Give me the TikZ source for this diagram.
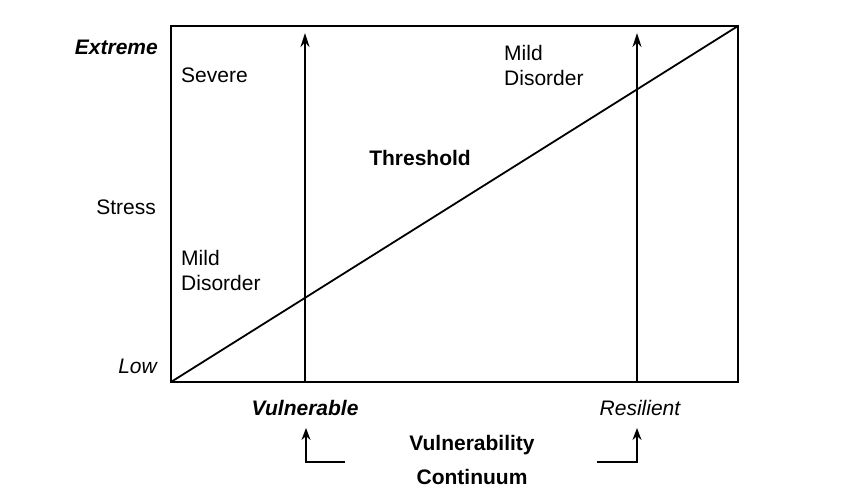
\documentclass[tikz,border=0pt]{standalone}
\usepackage{fontspec}
\setmainfont{Liberation Sans}
\usetikzlibrary{arrows.meta}
\begin{document}
\begin{tikzpicture}[x=1pt,y=-1pt,
  lbl/.style={font=\fontsize{21}{25}\selectfont, inner sep=0pt, align=left},
  ln/.style={line width=1.8pt},
  arr/.style={ln, -{Stealth[length=14pt,width=9pt]}}]
\useasboundingbox (0,0) rectangle (848,502);
\draw[ln] (171,26) rectangle (738,382);
\coordinate (o) at (171,382);
\coordinate (e) at (738,26);
\draw[ln] (o) -- (e);
\coordinate (lb) at (305,382); \coordinate (lt) at (305,33);
\coordinate (rb) at (637,382); \coordinate (rt) at (637,33);
\draw[arr] (lb) -- (lt);
\draw[arr] (rb) -- (rt);
\node[lbl, anchor=east, font=\fontsize{21}{25}\selectfont\bfseries\itshape] (ext) at (158,47) {Extreme};
\node[lbl, anchor=east] (str) at (156,207) {Stress};
\node[lbl, anchor=east, font=\fontsize{21}{25}\selectfont\itshape] (low) at (157,366) {Low};
\node[lbl, anchor=west] (sev) at (181,75) {Severe};
\node[lbl, anchor=west] (md1) at (181,270) {Mild\\Disorder};
\node[lbl, anchor=west] (md2) at (504,65) {Mild\\Disorder};
\node[lbl, font=\fontsize{21}{25}\selectfont\bfseries] (thr) at (420,158) {Threshold};
\node[lbl, font=\fontsize{21}{25}\selectfont\bfseries\itshape] (vul) at (305,408) {Vulnerable};
\node[lbl, font=\fontsize{21}{25}\selectfont\itshape] (res) at (640,408) {Resilient};
\node[lbl, align=center, font=\fontsize{21}{34}\selectfont\bfseries] (vc) at (472,460) {Vulnerability\\Continuum};
\coordinate (a1) at (345,462); \coordinate (a2) at (306,462); \coordinate (a3) at (306,428);
\coordinate (b1) at (597,462); \coordinate (b2) at (637,462); \coordinate (b3) at (637,428);
\draw[arr, -{Stealth[length=12pt,width=9pt]}, line width=1.5pt] (a1) -- (a2) -- (a3);
\draw[arr, -{Stealth[length=12pt,width=9pt]}, line width=1.5pt] (b1) -- (b2) -- (b3);
\end{tikzpicture}
\end{document}
